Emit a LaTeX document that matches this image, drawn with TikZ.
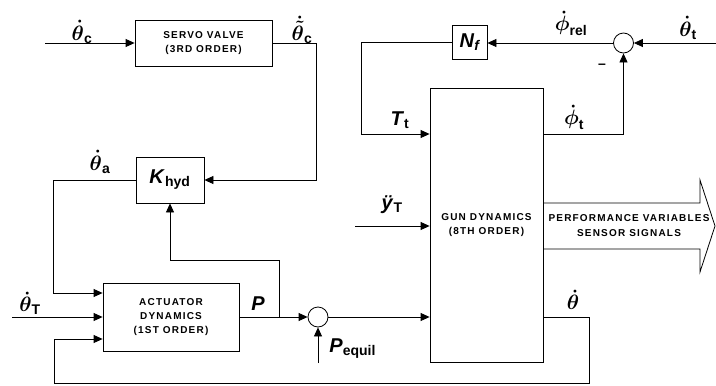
\documentclass[tikz,border=0pt]{standalone}
\usepackage{amsmath}
\usepackage{fontspec}
\setmainfont{Liberation Sans}
\newfontfamily\boxfont[LetterSpace=12]{Liberation Sans}
\usetikzlibrary{arrows.meta, positioning}

\begin{document}
\begin{tikzpicture}[x=1pt, y=-1pt, >={Triangle[length=9pt,width=8pt]}, line width=0.8pt,
  block/.style={draw, rectangle, inner sep=0pt, align=center,
    font=\boxfont\fontsize{10}{14}\selectfont\bfseries},
  sumnode/.style={draw, circle, minimum size=20pt, inner sep=0pt},
  lab/.style={inner sep=0pt, font=\fontsize{20}{24}\selectfont\bfseries}]
  \useasboundingbox (0,0) rectangle (716,386);

  \node[block, minimum width=137pt, minimum height=46pt] (servo) at (203.5,43) {SERVO VALVE\\(3RD ORDER)};
  \node[block, minimum width=68pt, minimum height=46pt, font=\fontsize{20}{24}\selectfont\bfseries] (khyd) at (170,180) {\textit{K}$_{\textbf{hyd}}$};
  \node[block, minimum width=136pt, minimum height=68pt] (act) at (171,317) {ACTUATOR\\DYNAMICS\\(1ST ORDER)};
  \node[block, minimum width=113pt, minimum height=274pt] (gun) at (486.5,225) {GUN DYNAMICS\\(8TH ORDER)};
  \node[block, minimum width=35pt, minimum height=34pt, font=\fontsize{20}{24}\selectfont\bfseries] (nf) at (469.5,42) {\textit{N}$_{\textit{f}}$};
  \node[sumnode] (sum1) at (318,317) {};
  \node[sumnode] (sum2) at (623.5,43) {};

  \coordinate (thcin) at (45,43);
  \coordinate (thTin) at (12,317);
  \coordinate (peq) at (318,363);
  \coordinate (thtin) at (716,43);
  \coordinate (yTin) at (355,226);

  \draw[->] (thcin) -- (servo.west);
  \draw[->] (servo.east) -- ++(44,0) |- (khyd.east);
  \draw[->] (khyd.west) -- ++(-82,0) |- ([yshift=24pt]act.west);
  \draw[->] (thTin) -- (act.west);
  \draw[->] ([yshift=-92pt]gun.east) -- ++(46,0) -- ++(0,66) -- ++(-535,0) |- ([yshift=-22pt]act.west);
  \draw[->] (act.east) -- (sum1.west);
  \draw[->] ([xshift=40pt]act.east) -- ++(0,-57) -| (khyd.south);
  \draw[->] (peq) -- (sum1.south);
  \draw[->] (sum1.east) -- (sum1.east -| gun.west);
  \draw[->] (nf.west) -- ++(-90,0) |- ([yshift=91pt]gun.west);
  \draw[->] ([yshift=91pt]gun.east) -| (sum2.south);
  \draw[->] (thtin) -- (sum2.east);
  \draw[->] (sum2.west) -- (sum2.west -| nf.east);
  \draw[->] (yTin) -- (yTin -| gun.west);

  \draw (gun.east |- 0,203) -- (700,203) -- (700,180) -- (715,226) -- (700,272) -- (700,249) -- (gun.east |- 0,249);
  \node[font=\boxfont\fontsize{10}{15}\selectfont\bfseries, align=center] (perf) at (629,226) {PERFORMANCE VARIABLES\\SENSOR SIGNALS};

  \node[lab] (lthc) at (82,32) {$\boldsymbol{\dot\theta}_{\textbf{c}}$};
  \node[lab] (lthcc) at (302,30) {$\boldsymbol{\dot{\tilde\theta}}_{\textbf{c}}$};
  \node[lab] (ltha) at (100,162) {$\boldsymbol{\dot\theta}_{\textbf{a}}$};
  \node[lab] (lthT) at (30,303) {$\boldsymbol{\dot\theta}_{\textbf{T}}$};
  \node[lab] (lP) at (258,304) {\textit{P}};
  \node[lab, anchor=west] (lPeq) at (329,349) {\textit{P}$_{\textbf{equil}}$};
  \node[lab] (lTt) at (400,120) {\textit{T}$_{\textbf{t}}$};
  \node[lab] (lyT) at (392,205) {\textit{ÿ}$_{\textbf{T}}$};
  \node[lab] (lpht) at (574,117) {$\boldsymbol{\dot\phi}_{\textbf{t}}$};
  \node[lab] (lphr) at (571,23) {$\boldsymbol{\dot\phi}_{\textbf{rel}}$};
  \node[lab] (ltht) at (688,28) {$\boldsymbol{\dot\theta}_{\textbf{t}}$};
  \node[lab] (lth) at (573,300) {$\boldsymbol{\dot\theta}$};
  \node[inner sep=0pt, font=\fontsize{14}{16}\selectfont\bfseries] (lminus) at (602,66) {--};
\end{tikzpicture}
\end{document}
